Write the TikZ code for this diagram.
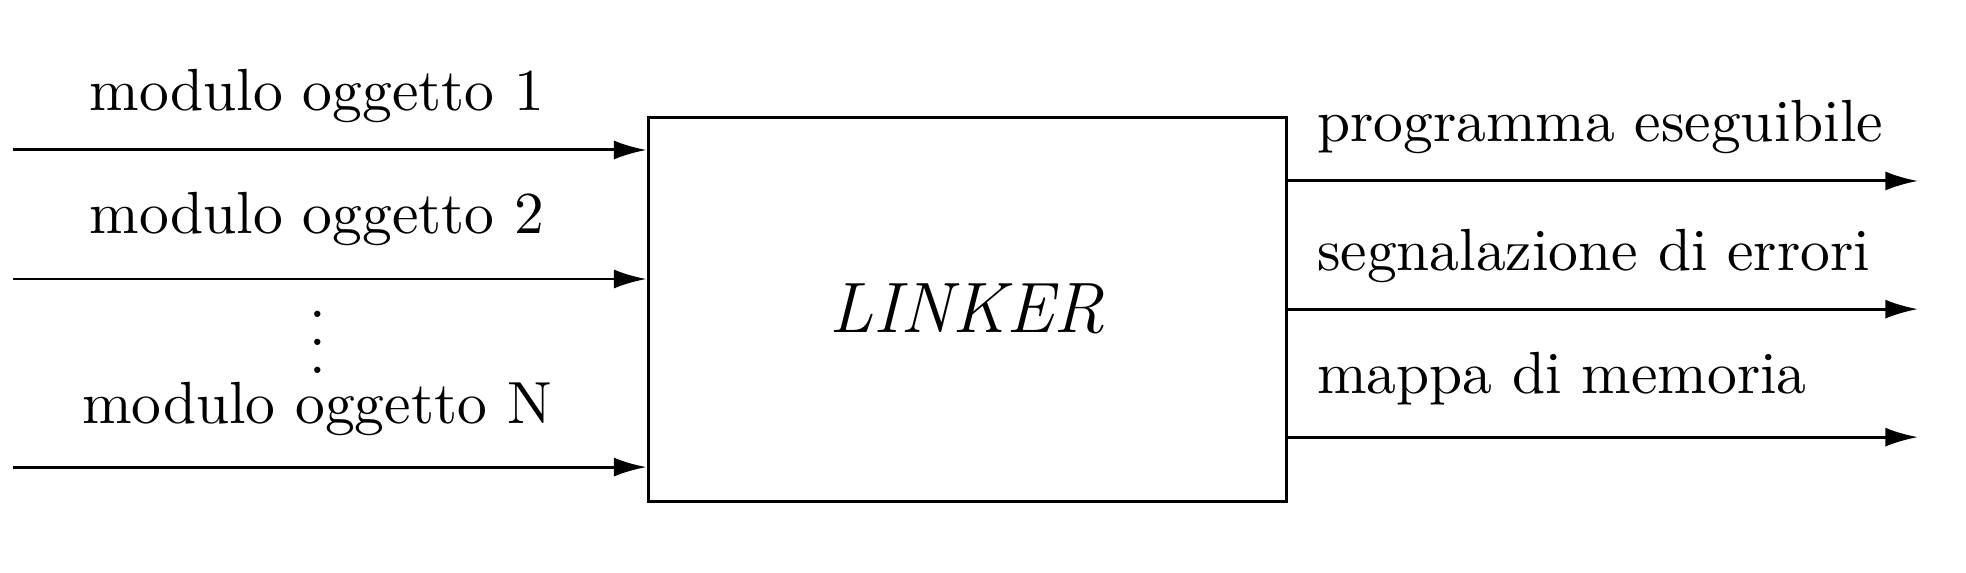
\documentclass[tikz,border=0pt]{standalone}
\usepackage{amsmath}
\usepackage{tikz}
\usetikzlibrary{arrows.meta, positioning}

\begin{document}
\begin{tikzpicture}[
    flow/.style={line width=0.5pt, -{Latex[length=5.5pt,width=3.2pt]}},
    box/.style={draw, line width=0.5pt, minimum width=3.768cm, minimum height=2.269cm, inner sep=0pt},
    lab/.style={inner sep=0pt}
]
    \useasboundingbox (0,0) rectangle (11.612,3.379);

    % Linker block
    \node[box] (linker) at (5.712,1.553) {\large\itshape LINKER};

    % Inputs
    \coordinate (in1) at (0.077,2.493);
    \coordinate (in2) at (0.077,1.731);
    \coordinate (inN) at (0.077,0.620);
    \draw[flow] (in1) -- (in1 -| linker.west);
    \draw[flow] (in2) -- (in2 -| linker.west);
    \draw[flow] (inN) -- (inN -| linker.west);

    \node[lab, anchor=base] (mod1) at (1.872,2.729) {modulo oggetto 1};
    \node[lab, anchor=base] (mod2) at (1.872,2.002) {modulo oggetto 2};
    \node[lab, align=center, font=\fontsize{10}{4.7}\selectfont] (dots) at (1.878,1.359) {.\\.\\.};
    \node[lab, anchor=base] (modN) at (1.872,0.880) {modulo oggetto N};

    % Outputs
    \coordinate (out1) at (11.329,2.310);
    \coordinate (out2) at (11.329,1.553);
    \coordinate (out3) at (11.329,0.797);
    \draw[flow] (linker.east |- out1) -- (out1);
    \draw[flow] (linker.east |- out2) -- (out2);
    \draw[flow] (linker.east |- out3) -- (out3);

    \node[lab, anchor=base west] (prog) at (7.773,2.546) {programma eseguibile};
    \node[lab, anchor=base west] (err) at (7.773,1.784) {segnalazione di errori};
    \node[lab, anchor=base west] (mem) at (7.773,1.057) {mappa di memoria};
\end{tikzpicture}
\end{document}
